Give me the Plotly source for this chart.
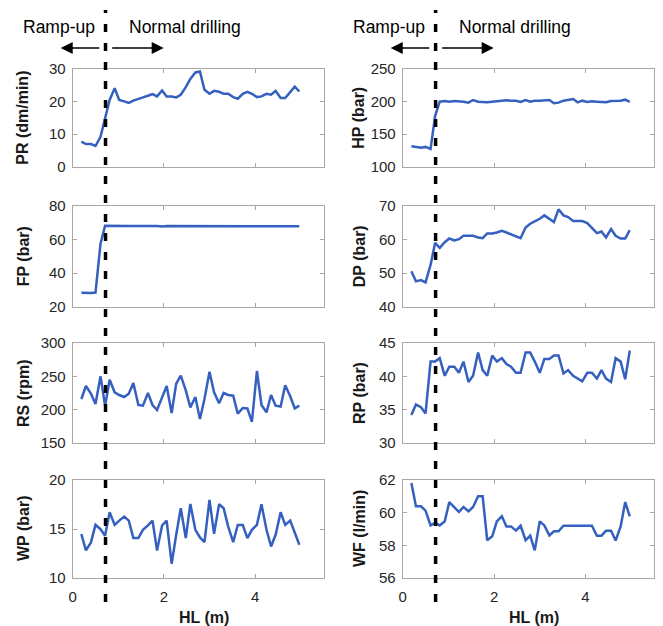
import plotly.graph_objects as go

# ---------------- data ----------------
HL = [0.19, 0.29, 0.40, 0.50, 0.61, 0.71, 0.81, 0.92, 1.02, 1.13, 1.23, 1.33,
      1.44, 1.54, 1.65, 1.75, 1.85, 1.96, 2.06, 2.17, 2.27, 2.37, 2.48, 2.58,
      2.69, 2.79, 2.89, 3.00, 3.10, 3.21, 3.31, 3.41, 3.52, 3.62, 3.73, 3.83,
      3.93, 4.04, 4.14, 4.25, 4.35, 4.45, 4.56, 4.66, 4.77, 4.87, 4.97]

PR = [7.7, 7.0, 7.0, 6.4, 9.2, 15.3, 20.4, 24.0, 20.4, 20.0, 19.5, 20.2,
      20.8, 21.2, 21.7, 22.2, 21.5, 23.3, 21.5, 21.5, 21.2, 22.0, 24.3, 26.8,
      28.8, 29.1, 23.5, 22.3, 23.2, 22.9, 22.3, 22.3, 21.3, 20.8, 22.3, 22.9,
      22.3, 21.3, 21.5, 22.3, 22.0, 23.2, 21.0, 21.0, 22.8, 24.5, 23.0]

FP = [28.2, 28.0, 28.0, 28.3, 57.5, 68.2, 68.1, 68.0, 67.8, 68.0, 68.0, 68.0,
      67.9, 68.0, 68.0, 68.0, 68.0, 67.7, 68.0, 68.0, 68.0, 68.0, 68.0, 68.0,
      68.0, 68.0, 68.0, 68.0, 68.0, 68.0, 68.0, 68.0, 68.0, 68.0, 68.0, 68.0,
      68.0, 67.7, 68.0, 68.0, 68.0, 68.0, 68.0, 67.7, 68.0, 67.8, 67.9]

RS = [216, 235.5, 224, 208.6, 250, 206, 245, 226, 222, 219, 224, 240,
      207, 206, 225, 207, 199.5, 219, 235.5, 195, 239, 251, 229, 203.5,
      219, 186, 216, 257, 226, 209.6, 225, 222, 221, 194, 202.5, 202,
      181.7, 258, 207, 196, 222, 206, 204.6, 236.5, 220, 202, 206]

WP = [14.47, 12.81, 13.63, 15.42, 14.98, 14.31, 16.71, 15.42, 15.86, 16.27, 15.86, 14.07,
      14.07, 14.92, 15.36, 15.86, 12.81, 15.36, 15.86, 11.46, 14.41, 17.12, 14.07, 17.56,
      14.92, 14.14, 13.66, 17.97, 14.51, 17.53, 17.12, 15.25, 13.66, 15.42, 15.42, 14.07,
      14.92, 15.42, 17.53, 14.92, 13.22, 14.41, 16.71, 15.42, 15.86, 14.58, 13.39]

HP = [131.6, 130.6, 129.5, 130.6, 127.5, 178.0, 199.5, 200.5, 199.5, 200.5, 200.5, 199.5,
      198.0, 202.0, 199.5, 199.0, 198.5, 199.5, 200.5, 201.0, 201.5, 201.0, 201.0, 199.0,
      202.0, 199.5, 201.0, 201.0, 201.0, 202.0, 197.0, 198.0, 201.0, 202.5, 203.5, 198.5,
      201.0, 199.0, 200.0, 199.5, 199.5, 198.5, 200.5, 200.5, 201.0, 202.5, 199.0]

DP = [50.5, 47.5, 47.9, 47.2, 52.4, 59.0, 57.5, 59.2, 60.3, 59.7, 60.1, 61.1,
      61.1, 61.1, 60.6, 60.4, 61.8, 61.8, 62.1, 62.6, 62.1, 61.6, 61.1, 60.4,
      63.6, 64.7, 65.4, 66.2, 67.2, 66.2, 65.2, 69.0, 67.2, 66.7, 65.5, 65.5,
      65.5, 64.9, 63.6, 61.9, 62.4, 60.6, 63.1, 61.1, 60.3, 60.3, 62.8]

RP = [34.19, 35.76, 35.36, 34.44, 42.21, 42.21, 42.72, 40.08, 41.45, 41.45, 40.53, 42.21,
      39.16, 40.08, 43.58, 40.94, 40.08, 43.12, 42.21, 42.72, 41.85, 41.45, 40.53, 40.53,
      43.58, 43.58, 42.21, 40.53, 42.61, 42.61, 43.12, 43.12, 40.43, 40.94, 40.08, 39.67,
      39.26, 40.53, 40.53, 39.67, 40.94, 39.67, 39.16, 42.72, 42.21, 39.57, 43.88]

WF = [61.82, 60.39, 60.39, 60.12, 59.22, 59.37, 59.22, 59.47, 60.65, 60.35, 60.04, 60.35,
      60.08, 60.35, 61.0, 61.0, 58.31, 58.55, 59.47, 59.78, 59.16, 59.16, 58.9, 59.2,
      58.31, 58.59, 57.69, 59.47, 59.22, 58.61, 58.86, 58.86, 59.2, 59.2, 59.2, 59.2,
      59.2, 59.2, 59.2, 58.59, 58.59, 58.9, 58.9, 58.29, 59.16, 60.65, 59.78]

RAMP_END_HL = 0.72

PANELS = [
    # (label, values, y range, y ticks)  left column then right column
    ("PR (dm/min)", PR, [0, 30], [0, 10, 20, 30]),
    ("FP (bar)", FP, [20, 80], [20, 40, 60, 80]),
    ("RS (rpm)", RS, [150, 300], [150, 200, 250, 300]),
    ("WP (bar)", WP, [10, 20], [10, 15, 20]),
    ("HP (bar)", HP, [100, 250], [100, 150, 200, 250]),
    ("DP (bar)", DP, [40, 70], [40, 50, 60, 70]),
    ("RP (bar)", RP, [30, 45], [30, 35, 40, 45]),
    ("WF (l/min)", WF, [56, 62], [56, 58, 60, 62]),
]
X_RANGE = [0, 5.5]
X_TICKS = [0, 2, 4]

# ---------------- layout geometry (pixels) ----------------
W, H = 663, 626
COLS = [(72.7, 323.5), (402.7, 654.0)]
ROWS = [(68.5, 167.0), (206.0, 306.5), (343.0, 443.0), (480.0, 578.0)]
LABEL_X = [23, 359]

def px(x):
    return x / W

def py(y):
    return (H - y) / H

FONT = "Liberation Sans, Arial, sans-serif"
LINE_COLOR = "#3560c0"
FRAME = "#a8a8a8"
TICKTXT = "#262626"

fig = go.Figure()
layout = dict(
    width=W, height=H, margin=dict(l=0, r=0, t=0, b=0, pad=0, autoexpand=False),
    paper_bgcolor="white", plot_bgcolor="white", showlegend=False,
    font=dict(family=FONT, size=15, color=TICKTXT),
)
annotations = []
shapes = []

for k, (label, vals, yr, yt) in enumerate(PANELS):
    col, row = divmod(k, 4)
    n = k + 1
    xa = "x" if n == 1 else f"x{n}"
    ya = "y" if n == 1 else f"y{n}"
    fig.add_trace(go.Scatter(x=HL, y=vals, mode="lines", xaxis=xa, yaxis=ya,
                             line=dict(color=LINE_COLOR, width=2.5)))
    c0, c1 = COLS[col]
    r0, r1 = ROWS[row]
    common = dict(showline=True, linecolor=FRAME, linewidth=1, mirror="allticks",
                  ticks="inside", ticklen=4, tickcolor=FRAME, showgrid=False,
                  zeroline=False, automargin=False,
                  tickfont=dict(family=FONT, size=15, color=TICKTXT))
    layout["xaxis" if n == 1 else f"xaxis{n}"] = dict(
        domain=[px(c0), px(c1)], range=X_RANGE, tickvals=X_TICKS,
        anchor=ya, showticklabels=(row == 3), ticklabelstandoff=5, **common)
    layout["yaxis" if n == 1 else f"yaxis{n}"] = dict(
        domain=[py(r1), py(r0)], range=yr, tickvals=yt, anchor=xa,
        ticklabelstandoff=3, **common)
    annotations.append(dict(
        x=px(LABEL_X[col]), y=py((r0 + r1) / 2), xref="paper", yref="paper",
        text=label, textangle=-90, showarrow=False, xanchor="center", yanchor="middle",
        font=dict(family=FONT, size=16, color="#1a1a1a", weight="bold")))
    if row == 3:
        annotations.append(dict(
            x=px((c0 + c1) / 2 + 6), y=py(617), xref="paper", yref="paper",
            text="HL (m)", showarrow=False, xanchor="center", yanchor="middle",
            font=dict(family=FONT, size=16, color="#1a1a1a", weight="bold")))
    if row == 0:
        # dashed separation line spanning the whole column
        shapes.append(dict(type="line", xref=xa, yref="paper",
                           x0=RAMP_END_HL, x1=RAMP_END_HL, y0=py(602), y1=py(10),
                           line=dict(color="black", width=3.5, dash="8px,11px"), layer="above"))
        # phase texts
        annotations.append(dict(x=px(c0 - 14), y=py(27), xref="paper", yref="paper",
                                text="Ramp-up", showarrow=False, xanchor="center",
                                yanchor="middle", font=dict(family=FONT, size=17.5, color="black")))
        annotations.append(dict(x=px(c0 + 112), y=py(27), xref="paper", yref="paper",
                                text="Normal drilling", showarrow=False, xanchor="center",
                                yanchor="middle", font=dict(family=FONT, size=17.5, color="black")))
        # arrows
        annotations.append(dict(x=px(c0 - 12), y=py(48), xref="paper", yref="paper",
                                ax=40, ay=0, text="", showarrow=True, arrowhead=2,
                                arrowsize=1.6, arrowwidth=1.5, arrowcolor="black"))
        annotations.append(dict(x=px(c0 + 91), y=py(48), xref="paper", yref="paper",
                                ax=-53, ay=0, text="", showarrow=True, arrowhead=2,
                                arrowsize=1.6, arrowwidth=1.5, arrowcolor="black"))

layout["annotations"] = annotations
layout["shapes"] = shapes
fig.update_layout(**layout)
fig.write_html("out.html", config={"displayModeBar": False},
               post_script="document.body.style.margin='0';document.body.style.overflow='hidden';")
